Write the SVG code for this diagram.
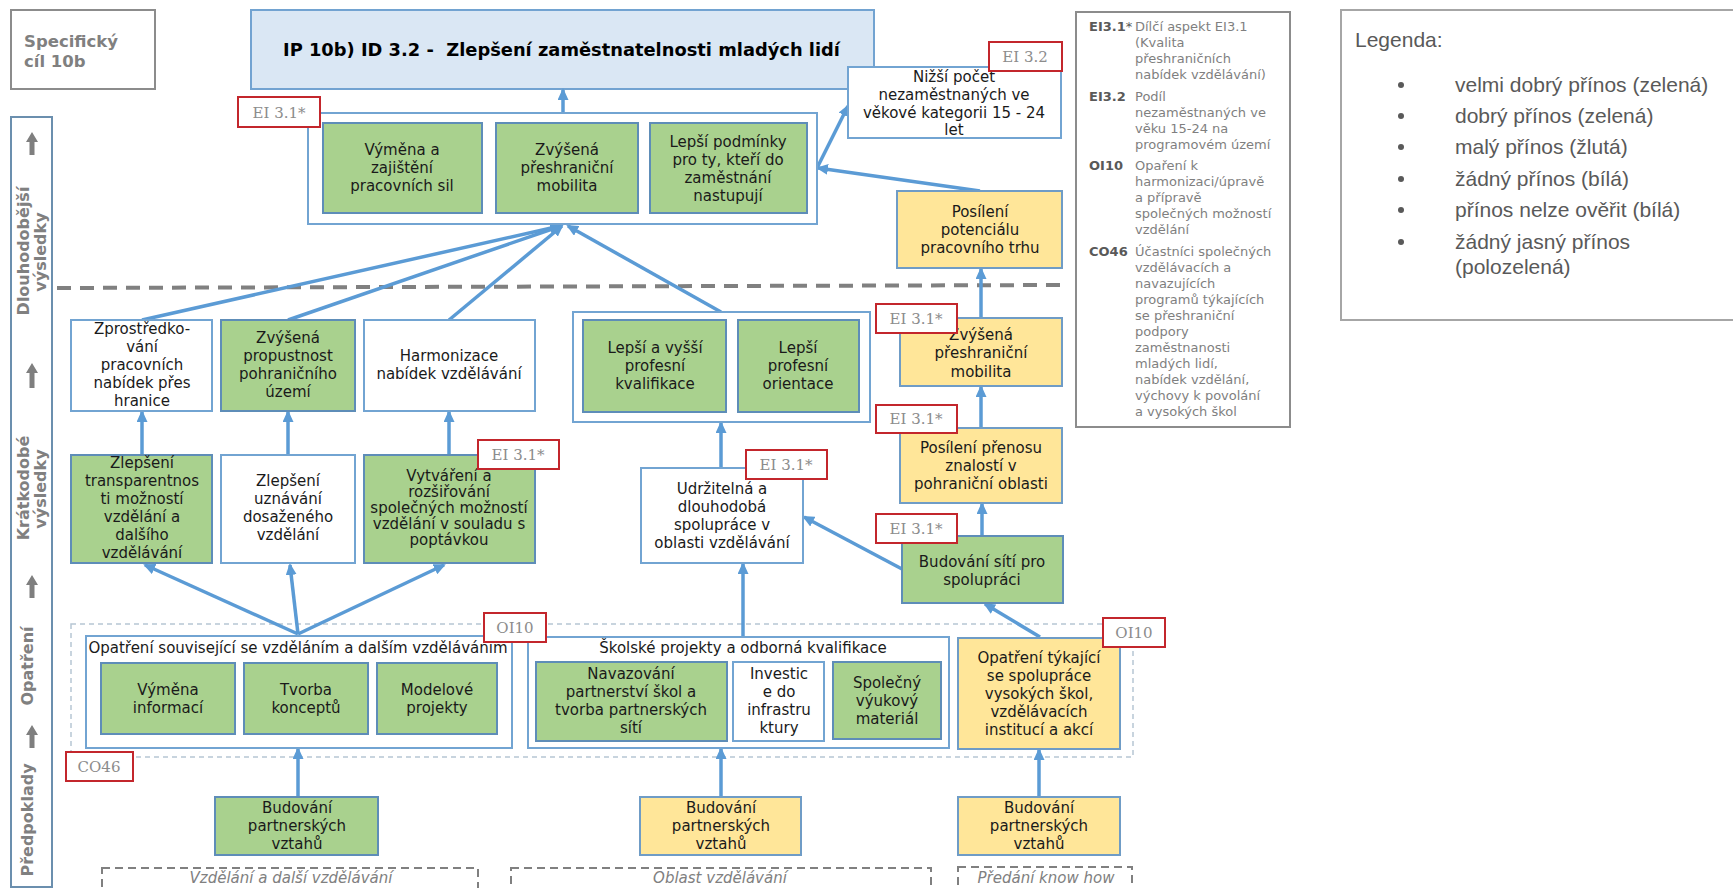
<svg xmlns="http://www.w3.org/2000/svg" width="1733" height="888" viewBox="0 0 1733 888">
<style>
.g{fill:#a9d18e;stroke:#5e8db8;stroke-width:2}
.y{fill:#ffe699;stroke:#6f9cc6;stroke-width:2}
.w{fill:#fff;stroke:#72a4d2;stroke-width:2}
.grp{fill:#fff;stroke:#72a4d2;stroke-width:2}
.t{font-family:"DejaVu Sans",Verdana,sans-serif;font-size:15px;fill:#1a1a1a;text-anchor:middle}
.eb{fill:#fff;stroke:#c3262c;stroke-width:2}
.et{font-family:"DejaVu Serif","Liberation Serif",serif;font-size:15px;fill:#8c8c8c;text-anchor:middle}
.c{stroke:#5b9bd5;stroke-width:3.5;fill:none;marker-end:url(#ah)}
.side{font-family:"DejaVu Sans",Verdana,sans-serif;font-size:16px;font-weight:bold;fill:#808080;text-anchor:middle}
.sa{fill:#7f7f7f}
.lab{font-family:"DejaVu Sans",Verdana,sans-serif;font-size:13px;font-weight:bold;fill:#595959}
.dsc{font-family:"DejaVu Sans",Verdana,sans-serif;font-size:13px;fill:#7f7f7f}
.lg{font-family:"Liberation Sans",Arial,sans-serif;font-size:21px;fill:#595959}
.db{fill:none;stroke:#808080;stroke-width:2;stroke-dasharray:8 5}
.it{font-family:"DejaVu Sans",Verdana,sans-serif;font-size:15px;font-style:italic;fill:#808080;text-anchor:middle}
</style>
<defs>
<marker id="ah" markerUnits="userSpaceOnUse" markerWidth="12" markerHeight="11" refX="10" refY="5.5" orient="auto">
<path d="M0,0 L12,5.5 L0,11 Z" fill="#5b9bd5"/>
</marker>
</defs>

<!-- header boxes -->
<g id="spec">
<rect x="11" y="10" width="144" height="79" fill="#fff" stroke="#8c8c8c" stroke-width="2"/>
<text x="24" y="47" font-family="DejaVu Sans,Verdana,sans-serif" font-size="16.5" font-weight="bold" fill="#808080">Specifický</text>
<text x="24" y="67" font-family="DejaVu Sans,Verdana,sans-serif" font-size="16.5" font-weight="bold" fill="#808080">cíl 10b</text>
</g>
<g id="title">
<rect x="251" y="10" width="623" height="79" fill="#dae7f4" stroke="#72a3d1" stroke-width="2"/>
<text x="283" y="56" xml:space="preserve" font-family="DejaVu Sans,Verdana,sans-serif" font-size="18" font-weight="bold" fill="#000" textLength="557" lengthAdjust="spacingAndGlyphs">IP 10b) ID 3.2 -  Zlepšení zaměstnatelnosti mladých lidí</text>
</g>

<!-- left column -->
<g id="levels">
<rect x="11" y="117" width="41" height="770" fill="#fff" stroke="#6b8fae" stroke-width="2"/>
<path class="sa" d="M26,142 L32,132 L38,142 L34.5,142 L34.5,155 L29.5,155 L29.5,142 Z"/>
<path class="sa" d="M26,373 L32,363 L38,373 L34.5,373 L34.5,388 L29.5,388 L29.5,373 Z"/>
<path class="sa" d="M26,585 L32,575 L38,585 L34.5,585 L34.5,598 L29.5,598 L29.5,585 Z"/>
<path class="sa" d="M26,735 L32,725 L38,735 L34.5,735 L34.5,748 L29.5,748 L29.5,735 Z"/>
<text class="side" transform="translate(29,251) rotate(-90)">Dlouhodobější</text>
<text class="side" transform="translate(46,252) rotate(-90)">výsledky</text>
<text class="side" transform="translate(29,488) rotate(-90)">Krátkodobé</text>
<text class="side" transform="translate(46,489) rotate(-90)">výsledky</text>
<text class="side" transform="translate(33,666) rotate(-90)">Opatření</text>
<text class="side" transform="translate(33,820) rotate(-90)">Předpoklady</text>
</g>

<line x1="57" y1="288" x2="1063" y2="285" stroke="#808080" stroke-width="4" stroke-dasharray="14 9"/>
<rect x="71" y="624" width="1062" height="133" fill="none" stroke="#b7c6d4" stroke-width="1.5" stroke-dasharray="5 4"/>

<!-- connectors -->
<g id="connectors">
<line class="c" x1="563" y1="113" x2="563" y2="90"/>
<line class="c" x1="142" y1="320" x2="560" y2="226"/>
<line class="c" x1="288" y1="320" x2="561" y2="226"/>
<line class="c" x1="449" y1="320" x2="562" y2="226"/>
<line class="c" x1="721" y1="312" x2="568" y2="226"/>
<line class="c" x1="817" y1="168" x2="848" y2="106"/>
<line class="c" x1="980" y1="191" x2="818" y2="168"/>
<line class="c" x1="981" y1="318" x2="981" y2="269"/>
<line class="c" x1="981" y1="428" x2="981" y2="387"/>
<line class="c" x1="982" y1="536" x2="982" y2="504"/>
<line class="c" x1="902" y1="569" x2="804" y2="517"/>
<line class="c" x1="1040" y1="637" x2="985" y2="604"/>
<line class="c" x1="721" y1="468" x2="721" y2="423"/>
<line class="c" x1="142" y1="455" x2="142" y2="412"/>
<line class="c" x1="288" y1="455" x2="288" y2="412"/>
<line class="c" x1="449" y1="455" x2="449" y2="412"/>
<line class="c" x1="298" y1="634" x2="145" y2="565"/>
<line class="c" x1="298" y1="634" x2="290" y2="565"/>
<line class="c" x1="298" y1="634" x2="444" y2="565"/>
<line class="c" x1="743" y1="637" x2="743" y2="564"/>
<line class="c" x1="298" y1="797" x2="298" y2="749"/>
<line class="c" x1="721" y1="797" x2="721" y2="749"/>
<line class="c" x1="1039" y1="797" x2="1039" y2="750"/>
</g>

<!-- long-term results -->
<g id="grp-top">
<rect class="grp" x="308" y="113" width="509" height="111"/>
</g>
<g id="n-vymena-sil">
<rect class="g" x="323" y="123" width="159" height="90"/>
<text class="t" x="402" y="155">Výměna a</text>
<text class="t" x="402" y="173">zajištění</text>
<text class="t" x="402" y="191">pracovních sil</text>
</g>
<g id="n-mobilita-top">
<rect class="g" x="496" y="123" width="142" height="90"/>
<text class="t" x="567" y="155">Zvýšená</text>
<text class="t" x="567" y="173">přeshraniční</text>
<text class="t" x="567" y="191">mobilita</text>
</g>
<g id="n-lepsi-podminky">
<rect class="g" x="650" y="123" width="157" height="90"/>
<text class="t" x="728" y="147">Lepší podmínky</text>
<text class="t" x="728" y="165">pro ty, kteří do</text>
<text class="t" x="728" y="183">zaměstnání</text>
<text class="t" x="728" y="201">nastupují</text>
</g>
<g id="n-nizsi">
<rect class="w" x="848" y="67" width="213" height="71"/>
<text class="t" x="954" y="82" font-size="14.5">Nižší počet</text>
<text class="t" x="954" y="100" font-size="14.5">nezaměstnaných ve</text>
<text class="t" x="954" y="118" font-size="14.5">věkové kategorii 15 - 24</text>
<text class="t" x="954" y="135" font-size="14.5">let</text>
</g>
<g id="n-posileni-trhu">
<rect class="y" x="897" y="191" width="165" height="77"/>
<text class="t" x="980" y="217">Posílení</text>
<text class="t" x="980" y="235">potenciálu</text>
<text class="t" x="980" y="253">pracovního trhu</text>
</g>

<!-- short-term results -->
<g id="n-zprostredkovani">
<rect class="w" x="71" y="320" width="141" height="91"/>
<text class="t" x="142" y="334">Zprostředko-</text>
<text class="t" x="142" y="352">vání</text>
<text class="t" x="142" y="370">pracovních</text>
<text class="t" x="142" y="388">nabídek přes</text>
<text class="t" x="142" y="406">hranice</text>
</g>
<g id="n-propustnost">
<rect class="g" x="221" y="320" width="134" height="91"/>
<text class="t" x="288" y="343">Zvýšená</text>
<text class="t" x="288" y="361">propustnost</text>
<text class="t" x="288" y="379">pohraničního</text>
<text class="t" x="288" y="397">území</text>
</g>
<g id="n-harmonizace">
<rect class="w" x="364" y="320" width="171" height="91"/>
<text class="t" x="449" y="361">Harmonizace</text>
<text class="t" x="449" y="379">nabídek vzdělávání</text>
</g>
<g id="grp-kvalifikace">
<rect class="grp" x="573" y="312" width="297" height="110"/>
</g>
<g id="n-kvalifikace">
<rect class="g" x="583" y="320" width="143" height="92"/>
<text class="t" x="655" y="353">Lepší a vyšší</text>
<text class="t" x="655" y="371">profesní</text>
<text class="t" x="655" y="389">kvalifikace</text>
</g>
<g id="n-orientace">
<rect class="g" x="738" y="320" width="121" height="92"/>
<text class="t" x="798" y="353">Lepší</text>
<text class="t" x="798" y="371">profesní</text>
<text class="t" x="798" y="389">orientace</text>
</g>
<g id="n-mobilita-yellow">
<rect class="y" x="900" y="318" width="162" height="68"/>
<text class="t" x="981" y="340">Zvýšená</text>
<text class="t" x="981" y="358">přeshraniční</text>
<text class="t" x="981" y="377">mobilita</text>
</g>
<g id="n-transparentnost">
<rect class="g" x="71" y="455" width="141" height="108"/>
<text class="t" x="142" y="468">Zlepšení</text>
<text class="t" x="142" y="486">transparentnos</text>
<text class="t" x="142" y="504">ti možností</text>
<text class="t" x="142" y="522">vzdělání a</text>
<text class="t" x="142" y="540">dalšího</text>
<text class="t" x="142" y="558">vzdělávání</text>
</g>
<g id="n-uznavani">
<rect class="w" x="221" y="455" width="134" height="108"/>
<text class="t" x="288" y="486">Zlepšení</text>
<text class="t" x="288" y="504">uznávání</text>
<text class="t" x="288" y="522">dosaženého</text>
<text class="t" x="288" y="540">vzdělání</text>
</g>
<g id="n-vytvareni">
<rect class="g" x="364" y="455" width="171" height="108"/>
<text class="t" x="449" y="481" font-size="13.5">Vytváření a</text>
<text class="t" x="449" y="497" font-size="13.5">rozšiřování</text>
<text class="t" x="449" y="513" font-size="13.5">společných možností</text>
<text class="t" x="449" y="529" font-size="13.5">vzdělání v souladu s</text>
<text class="t" x="449" y="545" font-size="13.5">poptávkou</text>
</g>
<g id="n-udrzitelna">
<rect class="w" x="641" y="468" width="162" height="95"/>
<text class="t" x="722" y="494">Udržitelná a</text>
<text class="t" x="722" y="512">dlouhodobá</text>
<text class="t" x="722" y="530">spolupráce v</text>
<text class="t" x="722" y="548">oblasti vzdělávání</text>
</g>
<g id="n-prenos">
<rect class="y" x="900" y="428" width="162" height="75"/>
<text class="t" x="981" y="453">Posílení přenosu</text>
<text class="t" x="981" y="471">znalostí v</text>
<text class="t" x="981" y="489">pohraniční oblasti</text>
</g>
<g id="n-site">
<rect class="g" x="902" y="536" width="161" height="67"/>
<text class="t" x="982" y="567">Budování sítí pro</text>
<text class="t" x="982" y="585">spolupráci</text>
</g>

<!-- measures -->
<g id="grp-vzdelani">
<rect class="grp" x="86" y="636" width="426" height="112"/>
<text class="t" x="298" y="653">Opatření související se vzděláním a dalším vzděláváním</text>
</g>
<g id="n-vymena-info">
<rect class="g" x="101" y="663" width="134" height="71"/>
<text class="t" x="168" y="695">Výměna</text>
<text class="t" x="168" y="713">informací</text>
</g>
<g id="n-tvorba">
<rect class="g" x="244" y="663" width="124" height="71"/>
<text class="t" x="306" y="695">Tvorba</text>
<text class="t" x="306" y="713">konceptů</text>
</g>
<g id="n-modelove">
<rect class="g" x="377" y="663" width="120" height="71"/>
<text class="t" x="437" y="695">Modelové</text>
<text class="t" x="437" y="713">projekty</text>
</g>
<g id="grp-skolske">
<rect class="grp" x="528" y="637" width="421" height="111"/>
<text class="t" x="743" y="653">Školské projekty a odborná kvalifikace</text>
</g>
<g id="n-navazovani">
<rect class="g" x="536" y="662" width="191" height="79"/>
<text class="t" x="631" y="679">Navazování</text>
<text class="t" x="631" y="697">partnerství škol a</text>
<text class="t" x="631" y="715">tvorba partnerských</text>
<text class="t" x="631" y="733">sítí</text>
</g>
<g id="n-investice">
<rect class="w" x="733" y="662" width="91" height="79"/>
<text class="t" x="779" y="679">Investic</text>
<text class="t" x="779" y="697">e do</text>
<text class="t" x="779" y="715">infrastru</text>
<text class="t" x="779" y="733">ktury</text>
</g>
<g id="n-spolecny">
<rect class="g" x="833" y="662" width="108" height="77"/>
<text class="t" x="887" y="688">Společný</text>
<text class="t" x="887" y="706">výukový</text>
<text class="t" x="887" y="724">materiál</text>
</g>
<g id="n-vysoke-skoly">
<rect class="y" x="958" y="638" width="162" height="111"/>
<text class="t" x="1039" y="663">Opatření týkající</text>
<text class="t" x="1039" y="681">se spolupráce</text>
<text class="t" x="1039" y="699">vysokých škol,</text>
<text class="t" x="1039" y="717">vzdělávacích</text>
<text class="t" x="1039" y="735">institucí a akcí</text>
</g>

<!-- prerequisites -->
<g id="n-budovani-1">
<rect class="g" x="215" y="797" width="163" height="58"/>
<text class="t" x="297" y="813">Budování</text>
<text class="t" x="297" y="831">partnerských</text>
<text class="t" x="297" y="849">vztahů</text>
</g>
<g id="n-budovani-2">
<rect class="y" x="640" y="797" width="161" height="58"/>
<text class="t" x="721" y="813">Budování</text>
<text class="t" x="721" y="831">partnerských</text>
<text class="t" x="721" y="849">vztahů</text>
</g>
<g id="n-budovani-3">
<rect class="y" x="958" y="797" width="162" height="58"/>
<text class="t" x="1039" y="813">Budování</text>
<text class="t" x="1039" y="831">partnerských</text>
<text class="t" x="1039" y="849">vztahů</text>
</g>
<g id="areas">
<rect class="db" x="102" y="868" width="376" height="30"/>
<text class="it" x="291" y="883">Vzdělání a další vzdělávání</text>
<rect class="db" x="511" y="868" width="420" height="30"/>
<text class="it" x="720" y="883">Oblast vzdělávání</text>
<rect class="db" x="958" y="867" width="174" height="30"/>
<text class="it" x="1046" y="883">Předání know how</text>
</g>

<!-- indicator tags -->
<g id="tags">
<rect class="eb" x="238" y="97" width="82" height="30"/><text class="et" x="279" y="118">EI 3.1*</text>
<rect class="eb" x="989" y="42" width="73" height="29"/><text class="et" x="1025" y="62">EI 3.2</text>
<rect class="eb" x="876" y="304" width="81" height="29"/><text class="et" x="916" y="324">EI 3.1*</text>
<rect class="eb" x="876" y="405" width="81" height="28"/><text class="et" x="916" y="424">EI 3.1*</text>
<rect class="eb" x="876" y="514" width="81" height="29"/><text class="et" x="916" y="534">EI 3.1*</text>
<rect class="eb" x="746" y="450" width="81" height="29"/><text class="et" x="786" y="470">EI 3.1*</text>
<rect class="eb" x="478" y="440" width="81" height="29"/><text class="et" x="518" y="460">EI 3.1*</text>
<rect class="eb" x="484" y="613" width="62" height="29"/><text class="et" x="515" y="633">OI10</text>
<rect class="eb" x="1103" y="618" width="62" height="29"/><text class="et" x="1134" y="638">OI10</text>
<rect class="eb" x="66" y="752" width="67" height="29"/><text class="et" x="99" y="772">CO46</text>
</g>

<!-- abbreviations -->
<g id="abbrev">
<rect x="1076" y="12" width="214" height="415" fill="#fff" stroke="#8c8c8c" stroke-width="2"/>
<text class="lab" x="1089" y="31">EI3.1<tspan font-weight="normal">*</tspan></text>
<text class="dsc" x="1135" y="31">Dílčí aspekt EI3.1</text>
<text class="dsc" x="1135" y="47">(Kvalita</text>
<text class="dsc" x="1135" y="63">přeshraničních</text>
<text class="dsc" x="1135" y="79">nabídek vzdělávání)</text>
<text class="lab" x="1089" y="101">EI3.2</text>
<text class="dsc" x="1135" y="101">Podíl</text>
<text class="dsc" x="1135" y="117">nezaměstnaných ve</text>
<text class="dsc" x="1135" y="133">věku 15-24 na</text>
<text class="dsc" x="1135" y="149">programovém území</text>
<text class="lab" x="1089" y="170">OI10</text>
<text class="dsc" x="1135" y="170">Opaření k</text>
<text class="dsc" x="1135" y="186">harmonizaci/úpravě</text>
<text class="dsc" x="1135" y="202">a přípravě</text>
<text class="dsc" x="1135" y="218">společných možností</text>
<text class="dsc" x="1135" y="234">vzdělání</text>
<text class="lab" x="1089" y="256">CO46</text>
<text class="dsc" x="1135" y="256">Účastníci společných</text>
<text class="dsc" x="1135" y="272">vzdělávacích a</text>
<text class="dsc" x="1135" y="288">navazujících</text>
<text class="dsc" x="1135" y="304">programů týkajících</text>
<text class="dsc" x="1135" y="320">se přeshraniční</text>
<text class="dsc" x="1135" y="336">podpory</text>
<text class="dsc" x="1135" y="352">zaměstnanosti</text>
<text class="dsc" x="1135" y="368">mladých lidí,</text>
<text class="dsc" x="1135" y="384">nabídek vzdělání,</text>
<text class="dsc" x="1135" y="400">výchovy k povolání</text>
<text class="dsc" x="1135" y="416">a vysokých škol</text>
</g>

<!-- legend -->
<g id="legend">
<rect x="1341" y="10" width="400" height="310" fill="#fff" stroke="#a6a6a6" stroke-width="2"/>
<text class="lg" x="1355" y="47">Legenda:</text>
<g fill="#595959">
<circle cx="1401" cy="85" r="3"/>
<circle cx="1401" cy="116" r="3"/>
<circle cx="1401" cy="147" r="3"/>
<circle cx="1401" cy="179" r="3"/>
<circle cx="1401" cy="210" r="3"/>
<circle cx="1401" cy="242" r="3"/>
</g>
<text class="lg" x="1455" y="92">velmi dobrý přínos (zelená)</text>
<text class="lg" x="1455" y="123">dobrý přínos (zelená)</text>
<text class="lg" x="1455" y="154">malý přínos (žlutá)</text>
<text class="lg" x="1455" y="186">žádný přínos (bílá)</text>
<text class="lg" x="1455" y="217">přínos nelze ověřit (bílá)</text>
<text class="lg" x="1455" y="249">žádný jasný přínos</text>
<text class="lg" x="1455" y="274">(polozelená)</text>
</g>
</svg>
